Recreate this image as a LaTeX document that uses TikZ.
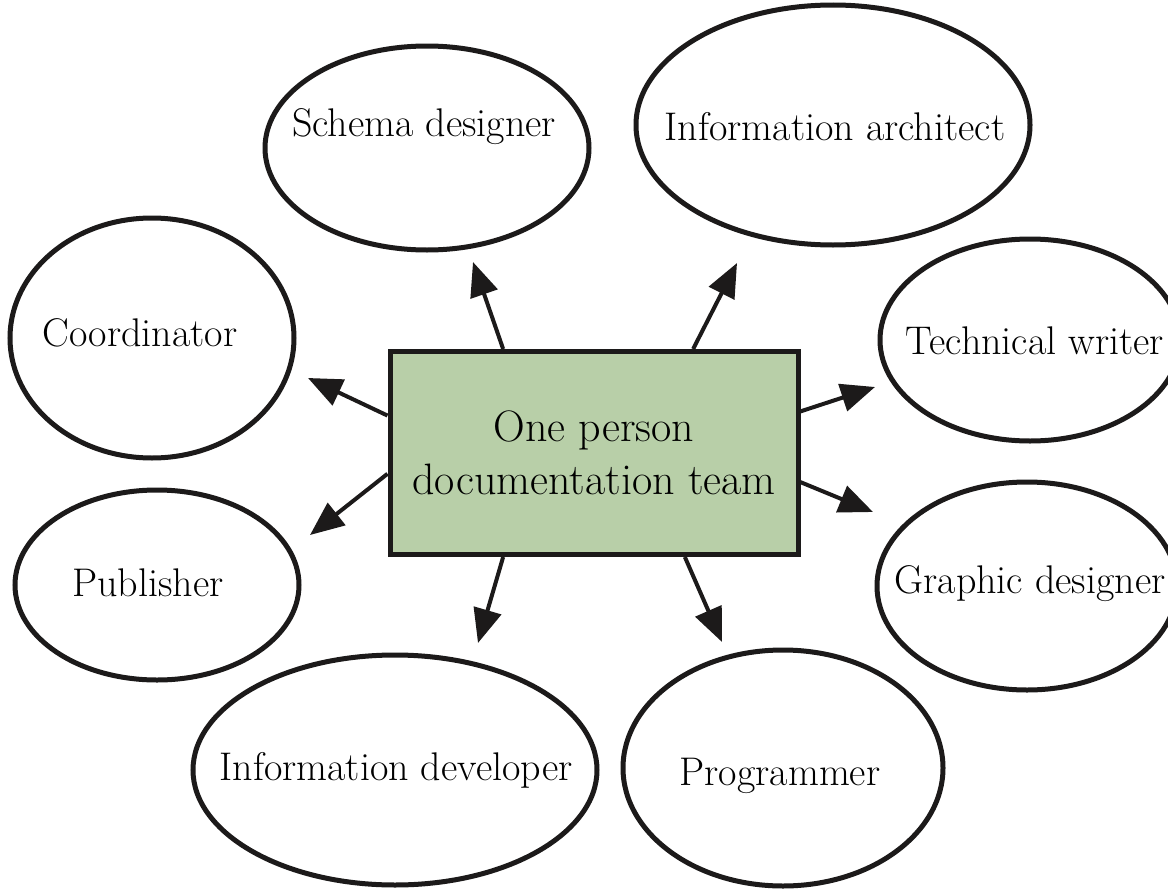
\documentclass[tikz,border=0pt]{standalone}
\usetikzlibrary{shapes.geometric,arrows.meta,calc}
\definecolor{ink}{HTML}{1C1A1A}
\definecolor{boxgreen}{HTML}{B8CFA8}
\begin{document}
\begin{tikzpicture}[x=1pt,y=-1pt,
  bubble/.style={draw=ink,line width=5pt,ellipse,inner sep=0pt},
  btext/.style={font=\fontsize{40}{48}\selectfont,text=black},
  arr/.style={draw=ink,line width=4pt,-{Triangle[length=34pt,width=28pt]}}]
\useasboundingbox[fill=white] (0,0) rectangle (1168,894);

\node[bubble,minimum width=324pt,minimum height=204pt,
  label={[btext,xshift=-3pt,yshift=21pt]center:Schema designer}] (schema) at (427,148) {};
\node[bubble,minimum width=394pt,minimum height=240pt,
  label={[btext,xshift=2pt,yshift=-2pt]center:Information architect}] (infoarch) at (833,125) {};
\node[bubble,minimum width=284pt,minimum height=240pt,
  label={[btext,xshift=-12pt,yshift=5pt]center:Coordinator}] (coord) at (152,338) {};
\node[bubble,minimum width=300pt,minimum height=202pt,
  label={[btext,xshift=5pt,yshift=-1pt]center:Technical writer}] (techw) at (1030,340) {};
\node[bubble,minimum width=284pt,minimum height=190pt,
  label={[btext,xshift=-9pt,yshift=2pt]center:Publisher}] (publ) at (157,585) {};
\node[bubble,minimum width=300pt,minimum height=208pt,
  label={[btext,xshift=3pt,yshift=2pt]center:Graphic designer}] (graphic) at (1027,586) {};
\node[bubble,minimum width=404pt,minimum height=230pt,
  label={[btext,xshift=1pt]center:Information developer}] (infodev) at (395,770) {};
\node[bubble,minimum width=320pt,minimum height=236pt,
  label={[btext,xshift=-3pt,yshift=-8pt]center:Programmer}] (prog) at (783,768) {};

\node[draw=ink,fill=boxgreen,line width=5pt,minimum width=408pt,minimum height=203pt,
  align=center,font=\fontsize{44}{53}\selectfont] (team) at (594,453) {One person\\documentation team};

\coordinate (tschema) at (473,262);
\coordinate (tinfoarch) at (737,263);
\coordinate (tcoord) at (308,378);
\coordinate (tpubl) at (310,535);
\coordinate (ttechw) at (875,387);
\coordinate (tgraphic) at (873,512);
\coordinate (tinfodev) at (478,643);
\coordinate (tprog) at (722,642);

\draw[arr] ($(team.north west)!0.28!(team.north east)$) -- (tschema);
\draw[arr] ($(team.north west)!0.74!(team.north east)$) -- (tinfoarch);
\draw[arr] ($(team.north west)!0.32!(team.south west)$) -- (tcoord);
\draw[arr] ($(team.north west)!0.60!(team.south west)$) -- (tpubl);
\draw[arr] ($(team.north east)!0.30!(team.south east)$) -- (ttechw);
\draw[arr] ($(team.north east)!0.64!(team.south east)$) -- (tgraphic);
\draw[arr] ($(team.south west)!0.28!(team.south east)$) -- (tinfodev);
\draw[arr] ($(team.south west)!0.72!(team.south east)$) -- (tprog);
\end{tikzpicture}
\end{document}
